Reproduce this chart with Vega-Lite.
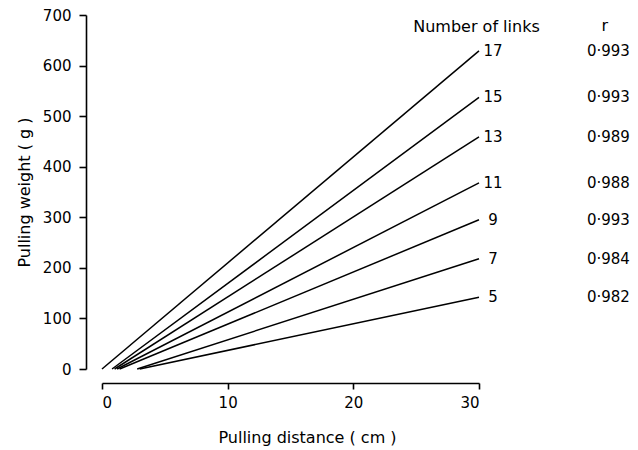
{
  "$schema": "https://vega.github.io/schema/vega-lite/v6.json",
  "width": 377,
  "height": 354,
  "autosize": "none",
  "padding": {"left": 102, "top": 15, "right": 159, "bottom": 81},
  "background": "white",
  "config": {
    "view": {"stroke": null},
    "font": "DejaVu Sans",
    "axis": {
      "grid": false,
      "domainColor": "black",
      "domainWidth": 1.6,
      "tickColor": "black",
      "tickWidth": 1.6,
      "labelColor": "black",
      "titleColor": "black",
      "labelFont": "DejaVu Sans",
      "titleFont": "DejaVu Sans",
      "labelFontSize": 15,
      "titleFontSize": 16,
      "titleFontWeight": "normal"
    }
  },
  "datasets": {
    "fits": [
      {"links": 17, "x": 0.0, "y": 0},
      {"links": 17, "x": 30, "y": 629},
      {"links": 15, "x": 0.8, "y": 0},
      {"links": 15, "x": 30, "y": 537},
      {"links": 13, "x": 1.0, "y": 0},
      {"links": 13, "x": 30, "y": 459},
      {"links": 11, "x": 1.2, "y": 0},
      {"links": 11, "x": 30, "y": 368},
      {"links": 9, "x": 1.4, "y": 0},
      {"links": 9, "x": 30, "y": 295},
      {"links": 7, "x": 2.8, "y": 0},
      {"links": 7, "x": 30, "y": 218},
      {"links": 5, "x": 3.0, "y": 0},
      {"links": 5, "x": 30, "y": 142}
    ],
    "labels": [
      {"links": "17", "r": "0·993", "x": 30, "rx": 40.3, "y": 629},
      {"links": "15", "r": "0·993", "x": 30, "rx": 40.3, "y": 537},
      {"links": "13", "r": "0·989", "x": 30, "rx": 40.3, "y": 459},
      {"links": "11", "r": "0·988", "x": 30, "rx": 40.3, "y": 368},
      {"links": "9", "r": "0·993", "x": 30, "rx": 40.3, "y": 295},
      {"links": "7", "r": "0·984", "x": 30, "rx": 40.3, "y": 218},
      {"links": "5", "r": "0·982", "x": 30, "rx": 40.3, "y": 142}
    ],
    "headers": [
      {"text": "Number of links", "x": 29.8, "y": 676},
      {"text": "r", "x": 40.0, "y": 679}
    ]
  },
  "layer": [
    {
      "data": {"name": "fits"},
      "mark": {"type": "line", "color": "black", "strokeWidth": 1.5},
      "encoding": {
        "detail": {"field": "links", "type": "nominal"},
        "x": {
          "field": "x",
          "type": "quantitative",
          "scale": {"domain": [0, 30], "nice": false},
          "axis": {
            "values": [0, 10, 20, 30],
            "offset": 14,
            "tickSize": 6,
            "labelPadding": 6,
            "title": "Pulling distance ( cm )",
            "titlePadding": 19,
            "titleX": 205
          }
        },
        "y": {
          "field": "y",
          "type": "quantitative",
          "scale": {"domain": [0, 700], "nice": false},
          "axis": {
            "values": [0, 100, 200, 300, 400, 500, 600, 700],
            "offset": 16,
            "tickSize": 7,
            "labelPadding": 8,
            "title": "Pulling weight ( g )",
            "titlePadding": 10
          }
        }
      }
    },
    {
      "data": {"name": "labels"},
      "mark": {"type": "text", "align": "center", "baseline": "middle", "dx": 14, "fontSize": 15, "color": "black", "clip": false},
      "encoding": {
        "x": {"field": "x", "type": "quantitative"},
        "y": {"field": "y", "type": "quantitative"},
        "text": {"field": "links", "type": "nominal"}
      }
    },
    {
      "data": {"name": "labels"},
      "mark": {"type": "text", "align": "center", "baseline": "middle", "fontSize": 15, "color": "black", "clip": false},
      "encoding": {
        "x": {"field": "rx", "type": "quantitative"},
        "y": {"field": "y", "type": "quantitative"},
        "text": {"field": "r", "type": "nominal"}
      }
    },
    {
      "data": {"name": "headers"},
      "mark": {"type": "text", "align": "center", "baseline": "middle", "fontSize": 16, "color": "black", "clip": false},
      "encoding": {
        "x": {"field": "x", "type": "quantitative"},
        "y": {"field": "y", "type": "quantitative"},
        "text": {"field": "text", "type": "nominal"}
      }
    }
  ]
}
